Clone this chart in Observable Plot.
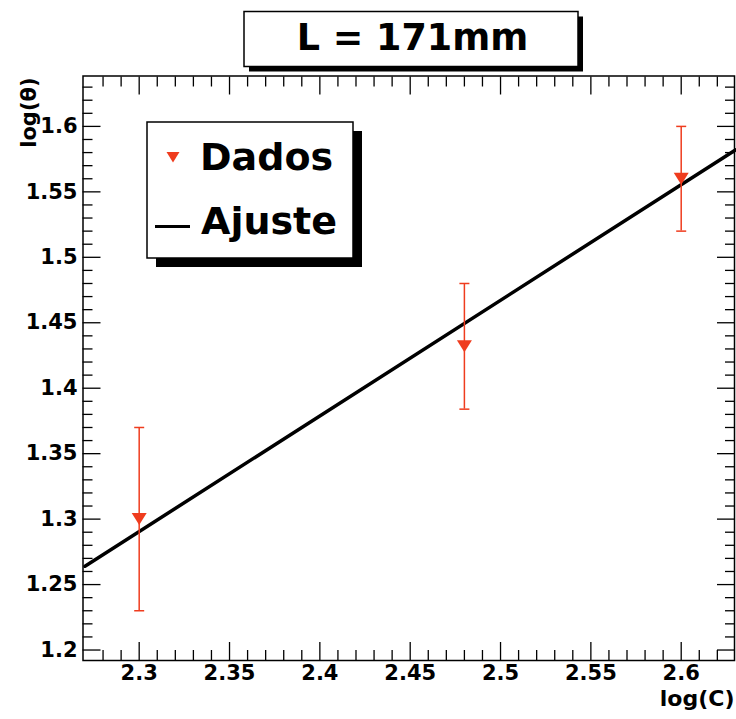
<!DOCTYPE html>
<html><head><meta charset="utf-8">
<script src="https://cdn.jsdelivr.net/npm/d3@7"></script>
<script src="https://cdn.jsdelivr.net/npm/@observablehq/plot@0.6"></script>
<style>body{margin:0;background:#fff} #chart{width:736px;height:719px}</style>
</head><body><div id="chart"></div>
<script>
// ---- data ----
const logC = [2.30, 2.48, 2.60];
const logTheta = [1.300, 1.432, 1.560];
const errTheta = [0.070, 0.048, 0.040];
const fitX = [2.27, 2.63];
const fitY = [1.264, 1.582];
const xTicks = [2.3, 2.35, 2.4, 2.45, 2.5, 2.55, 2.6];
const yTicks = [1.2, 1.25, 1.3, 1.35, 1.4, 1.45, 1.5, 1.55, 1.6];
const titleText = "L = 171mm";
const legendLabels = ["Dados", "Ajuste"];
const xLabel = "log(C)";
const yLabel = "log(θ)";

// ---- build ----
const xMinor = d3.range(228, 263).filter(i => i % 5 !== 0).map(i => i / 100);
const yMinor = d3.range(120, 164).filter(i => i % 5 !== 0).map(i => i / 100);
const points = logC.map((x, i) => ({x, y: logTheta[i], lo: logTheta[i] - errTheta[i], hi: logTheta[i] + errTheta[i]}));
const fit = fitX.map((x, i) => ({x, y: fitY[i]}));
const red = "#ef3c1e";
const FONT = "DejaVu Sans";

const capSym = {draw(ctx, size) { const r = Math.sqrt(size / Math.PI); ctx.moveTo(-r, 0); ctx.lineTo(r, 0); }};
const triDown = {draw(ctx, size) { const r = Math.sqrt(size / Math.PI); ctx.moveTo(-r, -0.8 * r); ctx.lineTo(r, -0.8 * r); ctx.lineTo(0, 0.8 * r); ctx.closePath(); }};

const MAJ = 18, MIN = 10;
const tickOpts = {fill: "none", stroke: "black", strokeWidth: 1.3};
const labelOpts = {fontSize: 21, fontWeight: "bold", fontFamily: FONT, fill: "black", tickSize: 0, tickFormat: d => String(d), label: null};

const chart = Plot.plot({
  width: 736, height: 719,
  marginLeft: 82.5, marginRight: 2, marginTop: 75.5, marginBottom: 59,
  x: {domain: [2.2689, 2.6295]},
  y: {domain: [1.192, 1.6385]},
  style: {background: "white", color: "black"},
  marks: [
    // tick labels
    Plot.axisX(xTicks, {...labelOpts, anchor: "bottom", tickPadding: 5}),
    Plot.axisY(yTicks, {...labelOpts, anchor: "left", tickPadding: 5.5}),
    // inward ticks on all four sides
    Plot.axisX(xTicks, {...tickOpts, anchor: "bottom", tickSize: -MAJ, label: null}),
    Plot.axisX(xMinor, {...tickOpts, anchor: "bottom", tickSize: -MIN, label: null}),
    Plot.axisX(xTicks, {...tickOpts, anchor: "top", tickSize: -MAJ, label: null}),
    Plot.axisX(xMinor, {...tickOpts, anchor: "top", tickSize: -MIN, label: null}),
    Plot.axisY(yTicks, {...tickOpts, anchor: "left", tickSize: -MAJ, label: null}),
    Plot.axisY(yMinor, {...tickOpts, anchor: "left", tickSize: -MIN, label: null}),
    Plot.axisY(yTicks, {...tickOpts, anchor: "right", tickSize: -MAJ, label: null}),
    Plot.axisY(yMinor, {...tickOpts, anchor: "right", tickSize: -MIN, label: null}),
    Plot.frame({stroke: "black", strokeWidth: 1.5}),
    // axis titles
    Plot.text([xLabel], {frameAnchor: "bottom-right", text: d => d, textAnchor: "end", dy: 45, fontSize: 22, fontWeight: "bold", fontFamily: FONT, fill: "black"}),
    Plot.text([yLabel], {frameAnchor: "top-left", text: d => d, textAnchor: "end", rotate: -90, dx: -62, dy: 1.5, fontSize: 21, fontWeight: "bold", fontFamily: FONT, fill: "black"}),
    // fit line
    Plot.line(fit, {x: "x", y: "y", stroke: "black", strokeWidth: 3.5}),
    // error bars
    Plot.ruleX(points, {x: "x", y1: "lo", y2: "hi", stroke: red, strokeWidth: 1.5}),
    Plot.dot(points, {x: "x", y: "lo", symbol: capSym, r: 5, stroke: red, strokeWidth: 1.5, fill: "none"}),
    Plot.dot(points, {x: "x", y: "hi", symbol: capSym, r: 5, stroke: red, strokeWidth: 1.5, fill: "none"}),
    // markers
    Plot.dot(points, {x: "x", y: "y", symbol: triDown, r: 7.5, fill: red, stroke: "none"})
  ]
});
document.getElementById("chart").appendChild(chart);

// ---- title box & legend (decorations) ----
const svg = d3.select(chart);
const deco = svg.append("g").attr("text-anchor", "start");
// title
deco.append("rect").attr("x", 249).attr("y", 16.5).attr("width", 334).attr("height", 55).attr("fill", "black");
deco.append("rect").attr("x", 244).attr("y", 11.5).attr("width", 334).attr("height", 55).attr("fill", "white").attr("stroke", "black").attr("stroke-width", 1.5);
deco.append("text").attr("x", 412.5).attr("y", 50).attr("text-anchor", "middle")
  .attr("font-family", FONT).attr("font-weight", "bold").attr("font-size", 36.5).attr("fill", "black").text(titleText);
// legend
deco.append("rect").attr("x", 156).attr("y", 131).attr("width", 206).attr("height", 136).attr("fill", "black");
deco.append("rect").attr("x", 147).attr("y", 122).attr("width", 206).attr("height", 136).attr("fill", "white").attr("stroke", "black").attr("stroke-width", 1.5);
deco.append("path").attr("d", "M166.5,152 L179.5,152 L173,162.5 Z").attr("fill", red);
deco.append("line").attr("x1", 155).attr("x2", 190).attr("y1", 226.5).attr("y2", 226.5).attr("stroke", "black").attr("stroke-width", 3);
deco.append("text").attr("x", 200).attr("y", 170).attr("text-anchor", "start").attr("font-family", FONT).attr("font-weight", "bold").attr("font-size", 38).attr("fill", "black").text(legendLabels[0]);
deco.append("text").attr("x", 201).attr("y", 234).attr("text-anchor", "start").attr("font-family", FONT).attr("font-weight", "bold").attr("font-size", 38).attr("fill", "black").text(legendLabels[1]);
</script>
</body></html>
